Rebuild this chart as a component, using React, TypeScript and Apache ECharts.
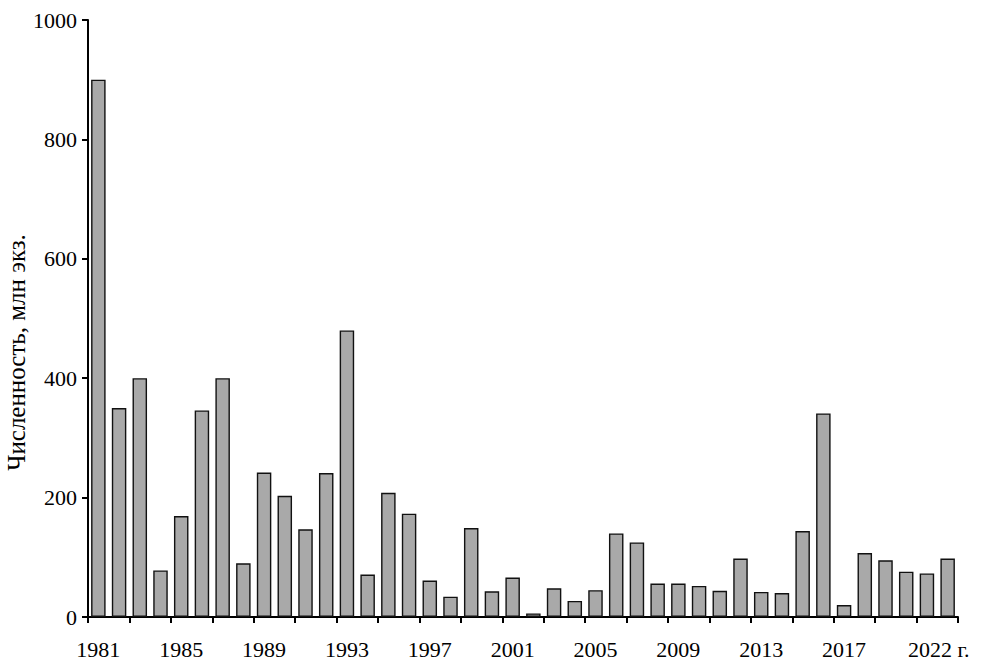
import React, { useEffect, useRef } from "react";
import * as echarts from "echarts";

const years: string[] = [
  "1981", "1982", "1983", "1984", "1985", "1986", "1987", "1988", "1989", "1990",
  "1991", "1992", "1993", "1994", "1995", "1996", "1997", "1998", "1999", "2000",
  "2001", "2002", "2003", "2004", "2005", "2006", "2007", "2008", "2009", "2010",
  "2011", "2012", "2013", "2014", "2015", "2016", "2017", "2018", "2019", "2020",
  "2021", "2022",
];

const abundance: number[] = [
  900, 350, 400, 78, 169, 346, 400, 90, 242, 203,
  147, 241, 480, 71, 208, 173, 61, 34, 149, 43,
  66, 6, 48, 27, 45, 140, 125, 56, 56, 52,
  44, 98, 42, 40, 144, 341, 20, 107, 95, 76,
  73, 98,
];

const yTitle = "Численность, млн экз.";
const lastLabelSuffix = " г.";

const FONT = "Liberation Serif";

export default function App() {
  const ref = useRef<HTMLDivElement>(null);

  useEffect(() => {
    if (!ref.current) return;
    const chart = echarts.init(ref.current, null, { renderer: "svg" });
    const lastIdx = years.length - 1;
    chart.setOption({
      animation: false,
      backgroundColor: "#ffffff",
      textStyle: { fontFamily: FONT },
      grid: {
        left: 88,
        right: 26,
        top: 20,
        bottom: 49,
        containLabel: false,
        outerBoundsMode: "none",
      },
      xAxis: {
        type: "category",
        data: years,
        boundaryGap: true,
        axisLine: { show: true, lineStyle: { color: "#000", width: 2 } },
        axisTick: {
          show: true,
          interval: 1,
          length: 6,
          inside: false,
          lineStyle: { color: "#000", width: 2 },
        },
        axisLabel: {
          interval: (index: number) => (index % 4 === 0 && index <= 36) || index === lastIdx,
          margin: 21,
          color: "#000",
          fontFamily: FONT,
          fontSize: 22,
          formatter: (value: string, index: number) =>
            index === lastIdx ? `{last|${value}${lastLabelSuffix}}` : value,
          rich: {
            last: {
              fontFamily: FONT,
              fontSize: 22,
              color: "#000",
              padding: [0, 18, 0, 0],
            },
          },
        },
        splitLine: { show: false },
      },
      yAxis: {
        type: "value",
        min: 0,
        max: 1000,
        interval: 200,
        name: yTitle,
        nameLocation: "middle",
        nameGap: 59,
        nameRotate: 90,
        nameMoveOverlap: false,
        nameTextStyle: {
          fontFamily: FONT,
          fontSize: 25,
          color: "#000",
          padding: [0, 68, 0, 0],
        },
        axisLine: { show: true, lineStyle: { color: "#000", width: 2 } },
        axisTick: { show: true, length: 6, inside: false, lineStyle: { color: "#000", width: 2 } },
        axisLabel: {
          margin: 11,
          color: "#000",
          fontFamily: FONT,
          fontSize: 22,
          formatter: (v: number) => String(v),
        },
        splitLine: { show: false },
      },
      series: [
        {
          type: "bar",
          data: abundance,
          barWidth: "70%",
          itemStyle: {
            color: "#a9a9a9",
            borderColor: "#111",
            borderWidth: 1.4,
          },
        },
      ],
    });
    return () => chart.dispose();
  }, []);

  return <div ref={ref} style={{ width: 984, height: 666, position: "absolute", left: 0, top: 0 }} />;
}
